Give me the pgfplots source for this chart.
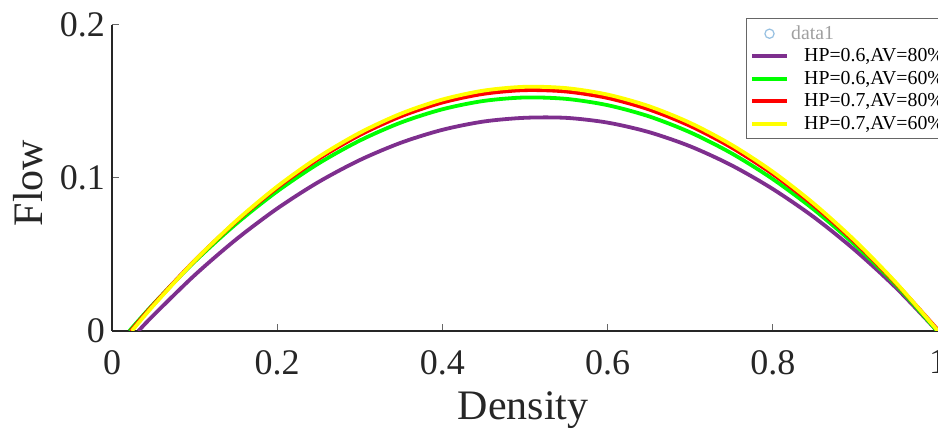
\documentclass[border=0pt]{standalone}
\usepackage{pgfplots}
\pgfplotsset{compat=1.18}
\usepackage{fontspec}
\setmainfont{Liberation Serif}
\definecolor{mpurple}{RGB}{126,47,142}
\definecolor{mgreen}{RGB}{0,255,0}
\definecolor{mred}{RGB}{255,0,0}
\definecolor{myellow}{RGB}{255,255,0}
\definecolor{axcol}{RGB}{38,38,38}
\definecolor{lblue}{RGB}{150,192,225}
\definecolor{lgray}{RGB}{160,160,160}
\begin{document}
\begin{tikzpicture}
\begin{axis}[
  at={(0,0)}, anchor=south west,
  scale only axis, width=413pt, height=153pt,
  xmin=0, xmax=1, ymin=0, ymax=0.2,
  axis x line*=bottom, axis y line*=left,
  axis line style={-, draw=axcol, line width=0.75pt},
  xtick={0,0.2,0.4,0.6,0.8,1}, ytick={0,0.1,0.2},
  tick align=inside, major tick length=3.5pt,
  tick style={draw=axcol!70, line width=0.5pt},
  /pgf/number format/assume math mode=true,
  /pgf/number format/fixed, /pgf/number format/precision=2,
  ticklabel style={font=\fontsize{18}{18}\selectfont, text=axcol},
  xticklabel style={yshift=-6pt},
  xlabel={Density}, ylabel={Flow},
  xlabel style={font=\fontsize{21}{21}\selectfont, text=axcol, at={(axis description cs:0.4976,-0.2908)}, anchor=base},
  ylabel style={font=\fontsize{21}{21}\selectfont, text=axcol, at={(axis description cs:-0.0847,0.4837)}, anchor=base},
  legend style={at={(rel axis cs:0.7676,1.023)}, anchor=north west,
    draw=gray!80!black, line width=0.5pt, fill=white, inner sep=2pt,
    font=\fontsize{9.9}{11}\selectfont,
    nodes={inner sep=0.375pt, text height=8pt, text depth=2.5pt},
    /tikz/every odd column/.append style={column sep=7.5pt}},
  legend cell align=left,
  every axis plot/.append style={line width=1.9pt},
]
\addlegendimage{only marks, mark=o, mark size=2.3pt, draw=lblue, mark options={line width=0.6pt}}
\addlegendentry{\hspace*{-6.5pt}\textcolor{lgray}{data1}}

\addplot[mpurple, smooth] coordinates {
(0.032,0) (0.05,0.01018) (0.1,0.03645) (0.15,0.05973) (0.2,0.08004) (0.25,0.09737)
(0.3,0.11172) (0.35,0.12309) (0.4,0.13149) (0.45,0.13691) (0.5,0.13935) (0.55,0.13930)
(0.6,0.13620) (0.65,0.13000) (0.7,0.12070) (0.75,0.10830) (0.8,0.09280) (0.85,0.07430)
(0.9,0.05260) (0.95,0.02780) (0.999,0)};
\addlegendentry{HP=0.6,AV=80\%}

\addplot[mgreen, smooth] coordinates {
(0.021,0) (0.05,0.01756) (0.1,0.04531) (0.15,0.06988) (0.2,0.09126) (0.25,0.10946)
(0.3,0.12446) (0.35,0.13629) (0.4,0.14492) (0.45,0.15037) (0.5,0.15263) (0.55,0.15171)
(0.6,0.14760) (0.65,0.14030) (0.7,0.12982) (0.75,0.11615) (0.8,0.09929) (0.85,0.07925)
(0.9,0.05602) (0.95,0.02960) (0.999,0)};
\addlegendentry{HP=0.6,AV=60\%}

\addplot[mred, smooth] coordinates {
(0.0226,0) (0.05,0.01717) (0.1,0.04594) (0.15,0.07142) (0.2,0.09360) (0.25,0.11248)
(0.3,0.12806) (0.35,0.14035) (0.4,0.14934) (0.45,0.15503) (0.5,0.15742) (0.55,0.15652)
(0.6,0.15232) (0.65,0.14482) (0.7,0.13402) (0.75,0.11993) (0.8,0.10254) (0.85,0.08185)
(0.9,0.05787) (0.95,0.03058) (1.001,0)};
\addlegendentry{HP=0.7,AV=80\%}

\addplot[myellow, smooth] coordinates {
(0.024,0) (0.05,0.01656) (0.1,0.04587) (0.15,0.07182) (0.2,0.09442) (0.25,0.11367)
(0.3,0.12956) (0.35,0.14210) (0.4,0.15129) (0.45,0.15712) (0.5,0.15960) (0.55,0.15873)
(0.6,0.15451) (0.65,0.14693) (0.7,0.13600) (0.75,0.12171) (0.8,0.10408) (0.85,0.08309)
(0.9,0.05875) (0.95,0.03105) (1.0,0)};
\addlegendentry{HP=0.7,AV=60\%}
\end{axis}
\pgfresetboundingbox
\path[use as bounding box] (-56pt,-51pt) rectangle (413pt,165.5pt);
\end{tikzpicture}
\end{document}
